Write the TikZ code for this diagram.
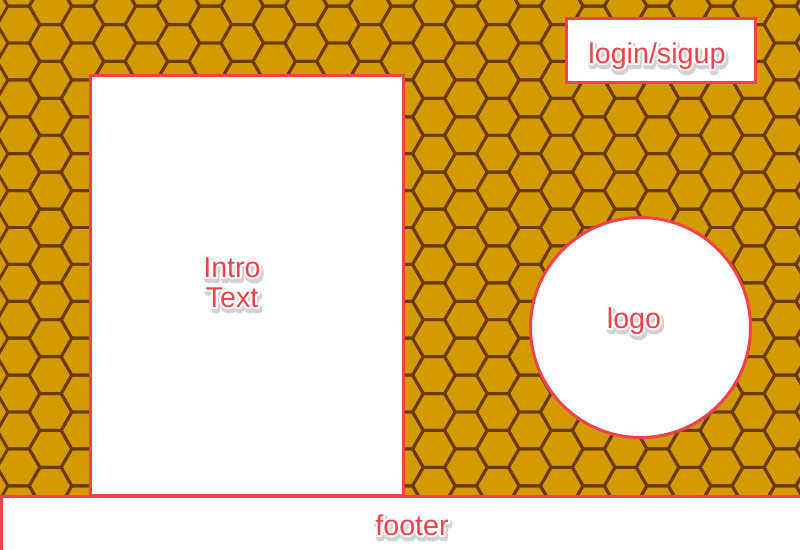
\documentclass[tikz,border=0pt]{standalone}
\usepackage{fontspec}
\setmainfont{Liberation Sans}
\usetikzlibrary{shadows}

% text with white halo and soft shadow (stroked copies, xdvipdfmx render mode)
\newcommand{\strokedcopy}[3]{\special{pdf:literal direct 2 Tr #2 w 1 J 1 j}\textcolor{#1}{#3}\special{pdf:literal direct 0 Tr}}
\newcommand{\glowtext}[1]{\leavevmode
  \rlap{\raisebox{-2.4pt}{\kern1pt\strokedcopy{black!18}{4.5}{#1}}}%
  \rlap{\strokedcopy{white}{3.2}{#1}}%
  #1}

\definecolor{honey}{RGB}{212,155,0}
\definecolor{honeydark}{RGB}{108,58,0}
\definecolor{wfred}{RGB}{242,65,75}

\tikzset{
  hexline/.style={draw=honeydark, line width=2.2pt, line join=round},
  wfbox/.style={draw=wfred, fill=white, line width=2.25pt, inner sep=0pt,
    drop shadow={shadow xshift=0.8pt, shadow yshift=-1.6pt, opacity=.35}},
  wflabel/.style={text=wfred, font=\fontsize{21.5}{22.5}\selectfont, align=center,
    inner sep=0pt, anchor=base}
}

\begin{document}
\begin{tikzpicture}[x=0.75pt,y=-0.75pt]

	\useasboundingbox (0,0) rectangle (800,550);
	\fill[honey] (0,0) rectangle (800,550);

	% honeycomb
	\begin{scope}
	\clip (0,0) rectangle (800,550);
	\foreach \k in {-1,...,25}
	  \foreach \j in {-1,...,15}{
	    \pgfmathsetmacro\cx{50.5+31.95*\k}
	    \pgfmathsetmacro\cy{43+36.9*\j-18.45*mod(abs(\k),2)}
	    \draw[hexline] (\cx+21.3,\cy) -- ++(-10.65,18.45) -- ++(-21.3,0) -- ++(-10.65,-18.45)
	      -- ++(10.65,-18.45) -- ++(21.3,0) -- cycle;
	  }
	\end{scope}

	\node[wfbox, minimum width=234.75pt, minimum height=315pt] (intro) at (246.5,285) {};
	\node[wfbox, minimum width=141.75pt, minimum height=48pt] (login) at (660.5,50) {};
	\node[wfbox, circle, minimum size=165pt] (logo) at (640.5,327.5) {};
	\node[wfbox, minimum width=616.5pt, minimum height=48pt] (footer) at (412,528) {};

	\node[wflabel] (introtext) at (232,307) {\glowtext{Intro}\\\glowtext{Text}};
	\node[wflabel] (logintext) at (657,63) {\glowtext{login/sigup}};
	\node[wflabel] (logotext) at (634,328) {\glowtext{logo}};
	\node[wflabel] (footertext) at (412,535) {\glowtext{footer}};

\end{tikzpicture}
\end{document}
